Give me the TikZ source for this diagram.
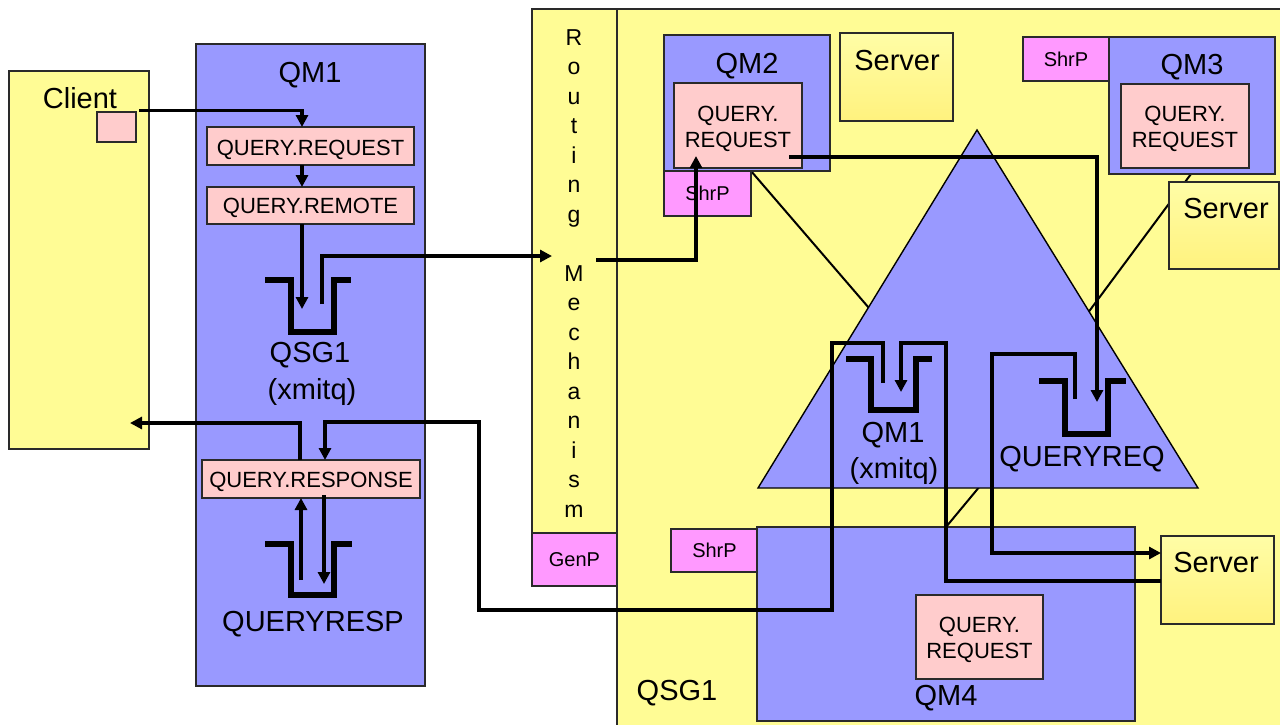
\documentclass[tikz,border=0pt]{standalone}
\usepackage{fontspec}
\setmainfont{Liberation Sans}
\usetikzlibrary{arrows.meta}

\definecolor{qyellow}{HTML}{FFFC95}
\definecolor{qblue}{HTML}{9999FF}
\definecolor{qpink}{HTML}{FFCCCC}
\definecolor{qmag}{HTML}{FF99FF}
\definecolor{srvtop}{HTML}{FFFDA6}
\definecolor{srvbot}{HTML}{FFF27E}
\definecolor{edge}{HTML}{2A2A2A}

\tikzset{
  box/.style={draw=edge, line width=1.3pt, inner sep=0pt, outer sep=0pt, anchor=north west},
  ybox/.style={box, fill=qyellow},
  bbox/.style={box, fill=qblue},
  pbox/.style={box, fill=qpink},
  mbox/.style={box, fill=qmag, font=\fontsize{20}{24}\selectfont},
  srv/.style={box, top color=srvtop, bottom color=srvbot},
  lbl/.style={inner sep=0pt, anchor=base, font=\fontsize{29}{34}\selectfont},
  ptxt/.style={inner sep=0pt, anchor=base, font=\fontsize{22}{26}\selectfont},
  rlet/.style={inner sep=0pt, anchor=base, font=\fontsize{23}{27}\selectfont},
  queue/.style={line width=6pt, line join=miter, line cap=butt},
  flow/.style={line width=3.6pt, line join=miter, -{Triangle[length=12pt,width=12pt]}},
  cfline/.style={line width=2pt},
}

\begin{document}
\begin{tikzpicture}[x=1pt,y=-1pt]
\useasboundingbox (0,0) rectangle (1280,724);

% queue sharing group area
\begin{scope}
  \clip (0,0) rectangle (1280,724);
  \node[ybox, minimum width=700pt, minimum height=740pt] (qsg) at (617,9) {};
\end{scope}

% routing mechanism column and generic port
\node[ybox, minimum width=85pt, minimum height=524pt] (routing) at (532,9) {};
\node[mbox, minimum width=85pt, minimum height=53pt] (genp) at (532,533) {GenP};

% client and queue manager QM1
\node[ybox, minimum width=140pt, minimum height=378pt] (client) at (9,71) {};
\node[box, fill=qpink, minimum width=39pt, minimum height=30pt] (cpink) at (97,112) {};
\node[bbox, minimum width=229pt, minimum height=642pt] (qm1) at (196,44) {};
\node[pbox, minimum width=207pt, minimum height=38pt] (qreq) at (207,127) {};
\node[pbox, minimum width=207pt, minimum height=37pt] (qrem) at (207,187) {};
\node[pbox, minimum width=218pt, minimum height=38pt] (qresp) at (202,460) {};

% links from the queue managers to the coupling facility
\node[mbox, minimum width=87pt, minimum height=45pt] (shrp2) at (664,171) {ShrP};
\node[bbox, minimum width=166pt, minimum height=137pt] (qm3) at (1109,37) {};
\node[bbox, minimum width=378pt, minimum height=194pt] (qm4) at (757,527) {};
\coordinate (cf2) at (974,430);
\coordinate (cf3) at (1001,430);
\coordinate (cf4) at (990,474);
\draw[cfline] (shrp2.north east) -- (cf2);
\draw[cfline] ([xshift=-1pt]qm3.south) -- (cf3);
\draw[cfline] ([xshift=-189pt]qm4.north east) -- (cf4);

% coupling facility
\coordinate (ta) at (977,130);
\coordinate (tl) at (758,488);
\coordinate (tr) at (1198,488);
\filldraw[fill=qblue, draw=black, line width=1.4pt] (ta) -- (tl) -- (tr) -- cycle;

% queue managers QM2, QM3, QM4 and servers
\node[bbox, minimum width=166pt, minimum height=136pt] (qm2) at (664,35) {};
\node[pbox, minimum width=128pt, minimum height=85pt] (qm2req) at (674,83) {};
\node[mbox, minimum width=87pt, minimum height=45pt] at (664,171) {ShrP};
\node[srv, minimum width=113pt, minimum height=88pt] (srv1) at (840,33) {};
\node[mbox, minimum width=86pt, minimum height=44pt] (shrp3) at (1023,37) {ShrP};
\node[bbox, minimum width=166pt, minimum height=137pt] at (1109,37) {};
\node[pbox, minimum width=128pt, minimum height=84pt] (qm3req) at (1121,84) {};
\node[srv, minimum width=110pt, minimum height=87pt] (srv2) at (1169,182) {};
\node[mbox, minimum width=87pt, minimum height=43pt] (shrp4) at (671,529) {ShrP};
\node[bbox, minimum width=378pt, minimum height=194pt] at (757,527) {};
\node[pbox, minimum width=127pt, minimum height=84pt] (qm4req) at (916,595) {};
\node[srv, minimum width=113pt, minimum height=88pt] (srv3) at (1161,536) {};

% queue names inside the pink boxes
\node[ptxt] (tqreq) at (310.5,155) {QUERY.REQUEST};
\node[ptxt] (tqrem) at (310.5,213) {QUERY.REMOTE};
\node[ptxt] (tqresp) at (311,487) {QUERY.RESPONSE};
\node[ptxt] (t2a) at (738,121) {QUERY.};
\node[ptxt] (t2b) at (738,147) {REQUEST};
\node[ptxt] (t3a) at (1185,121) {QUERY.};
\node[ptxt] (t3b) at (1185,147) {REQUEST};
\node[ptxt] (t4a) at (979.5,632) {QUERY.};
\node[ptxt] (t4b) at (979.5,658) {REQUEST};

% labels
\node[lbl] (tclient) at (80,108) {Client};
\node[lbl] (tqm1) at (310,82) {QM1};
\node[lbl] (tqsg1) at (310,362) {QSG1};
\node[lbl] (tx1) at (312,399) {(xmitq)};
\node[lbl] (tqrsp) at (313,631) {QUERYRESP};
\node[lbl] (tqm2) at (747,73) {QM2};
\node[lbl] (ts1) at (897,70) {Server};
\node[lbl] (tqm3) at (1192,74) {QM3};
\node[lbl] (ts2) at (1226,218) {Server};
\node[lbl] (tqm1b) at (893,442) {QM1};
\node[lbl] (tx2) at (894,478) {(xmitq)};
\node[lbl] (tqrq) at (1082,466) {QUERYREQ};
\node[lbl] (tqm4) at (946,705) {QM4};
\node[lbl] (ts3) at (1216,572) {Server};
\node[lbl] (tqsg) at (677,700) {QSG1};
\foreach \c [count=\i from 0] in {R,o,u,t,i,n,g}
  \node[rlet] (rt\i) at (574,{45+29.5*\i}) {\c};
\foreach \c [count=\i from 0] in {M,e,c,h,a,n,i,s,m}
  \node[rlet] (rm\i) at (574,{281+29.5*\i}) {\c};

% queues
\draw[queue] (265,280) -- (291,280) -- (291,332) -- (334,332) -- (334,280) -- (351,280);
\draw[queue] (265,544) -- (291,544) -- (291,595) -- (334,595) -- (334,544) -- (352,544);
\draw[queue] (846,359) -- (871,359) -- (871,410) -- (916,410) -- (916,359) -- (932,359);
\draw[queue] (1039,381) -- (1065,381) -- (1065,434) -- (1108,434) -- (1108,381) -- (1126,381);

% end points inside queues and boxes
\coordinate (q1in) at (302,309);
\coordinate (q1out) at (322,304);
\coordinate (rin) at (552,256);
\coordinate (rout) at (596,260);
\coordinate (q2in) at (696,156);
\coordinate (q2out) at (789,157);
\coordinate (qrin) at (1097,402);
\coordinate (qrout) at (1075,399);
\coordinate (xqin) at (901,392);
\coordinate (xqout) at (883,383);
\coordinate (cin) at (130,423);
\coordinate (rqout) at (301,580);
\coordinate (rqin) at (324,584);

% message flow
\draw[flow] ([xshift=3pt,yshift=1.5pt]cpink.north east) -| ([xshift=-8.5pt]qreq.north);
\draw[flow] ([xshift=-8.5pt]qreq.south) -- ([xshift=-8.5pt]qrem.north);
\draw[flow] ([xshift=-8.5pt]qrem.south) -- (q1in);
\draw[flow] (q1out) |- (rin);
\draw[flow] (rout) -| (q2in);
\draw[flow] (q2out) -| (qrin);
\draw[flow] (qrout) |- (992,354) |- ([yshift=27pt]srv3.west);
\draw[flow] ([yshift=-1pt]srv3.west) -| (946,343) -| (xqin);
\draw[flow] (xqout) |- (832,343) |- (479,610) |- (325,422) -- ([xshift=14pt]qresp.north);
\draw[flow] ([xshift=-11pt]qresp.north) |- (cin);
\draw[flow] (rqout) -- ([xshift=-10pt]qresp.south);
\draw[flow] ([xshift=13pt,yshift=3pt]qresp.south) -- (rqin);
\end{tikzpicture}
\end{document}
